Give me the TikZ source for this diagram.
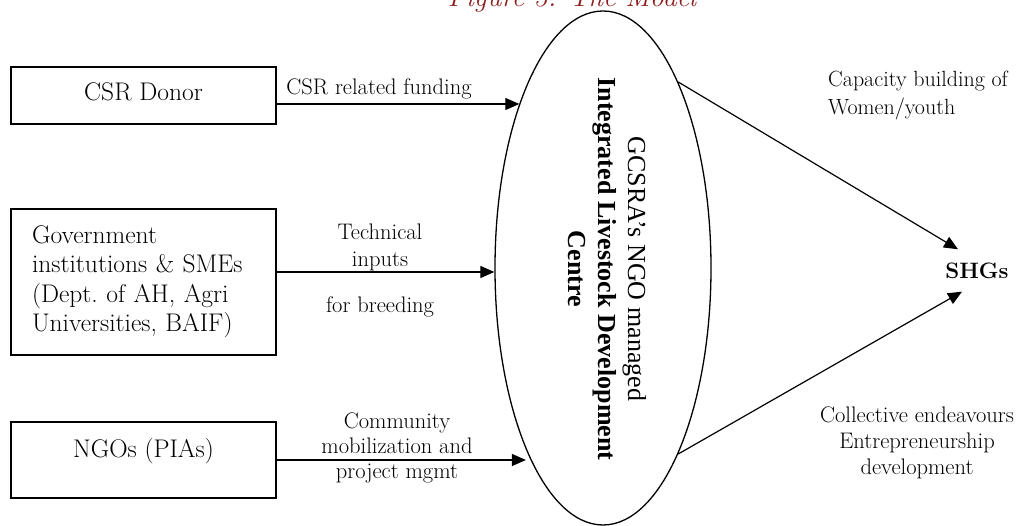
\documentclass[tikz,border=0pt]{standalone}
\usepackage{fontspec}
\newfontfamily\tnr{Liberation Serif}
\usetikzlibrary{shapes.geometric,arrows.meta,calc}
\definecolor{titlered}{RGB}{140,30,30}
\tikzset{
  srcbox/.style={draw, line width=1.4pt, minimum width=265pt, inner sep=0pt, font=\fontsize{25.5}{29.5}\selectfont},
  arr/.style={-{Triangle[length=14pt,width=12pt]}, line width=1.2pt},
  lbl/.style={inner sep=0pt, font=\fontsize{22.5}{26}\selectfont},
}
\begin{document}
\begin{tikzpicture}[x=1pt,y=1pt]
\useasboundingbox (0,0) rectangle (1021,526);
% title (cut off at top)
\node[anchor=base, inner sep=0pt, text=titlered, font=\fontsize{28}{30}\selectfont\itshape] (title) at (572,519) {Figure 3: The Model};
% source boxes
\node[srcbox, minimum height=57pt, text height=16.5pt, text depth=5.5pt] (csr) at (143.5,430.5) {CSR Donor};
\node[srcbox, minimum height=146pt, text width=223pt, align=left, inner xsep=21pt] (gov) at (143.5,244)
  {Government\\institutions \& SMEs\\(Dept.\ of AH, Agri\\Universities, BAIF)};
\node[srcbox, minimum height=76pt, text height=11pt, text depth=15pt] (ngo) at (143.5,66) {NGOs (PIAs)};
% centre ellipse
\node[draw, ellipse, line width=1.3pt, minimum width=216pt, minimum height=514pt, inner sep=0pt] (ell) at (603,258) {};
\node[rotate=-90, align=center, inner sep=0pt, font=\tnr\fontsize{26}{30}\selectfont] (ilc) at (607,257)
  {GCSRA’s NGO managed\\\textbf{Integrated Livestock Development}\\\textbf{Centre}};
% target
\node[inner sep=0pt, minimum height=42pt, font=\fontsize{22.3}{26}\selectfont\bfseries] (shg) at (977,255.5) {SHGs};
% connectors
\coordinate (s1) at ([yshift=-8.5pt]csr.east);
\coordinate (s2) at ([yshift=10pt]gov.east);
\draw[arr] (s1) -- (s1 -| ell.117);
\draw[arr] (s2) -- (s2 -| ell.west);
\draw[arr] (ngo.east) -- (ngo.east -| ell.247);
\draw[arr] (ell.68) -- ([xshift=-19pt]shg.north);
\draw[arr] (ell.292) -- ([xshift=-15pt]shg.south);
% connector labels
\node[lbl, anchor=base] (l1) at (379,431) {CSR related funding};
\node[lbl, anchor=north, align=center, font=\fontsize{22.5}{27}\selectfont] (l2) at (380,302) {Technical\\inputs\\[19pt]for breeding};
\node[lbl, anchor=north, align=center, font=\fontsize{22.5}{25}\selectfont] (l3) at (397,113) {Community\\mobilization and\\project mgmt};
\node[lbl, anchor=north west, align=left, font=\fontsize{22}{28}\selectfont] (l4) at (828,455) {Capacity building of\\Women/youth};
\node[lbl, anchor=north, align=center, font=\fontsize{22.5}{26}\selectfont] (l5) at (917,119) {Collective endeavours\\Entrepreneurship\\development};
\end{tikzpicture}
\end{document}
